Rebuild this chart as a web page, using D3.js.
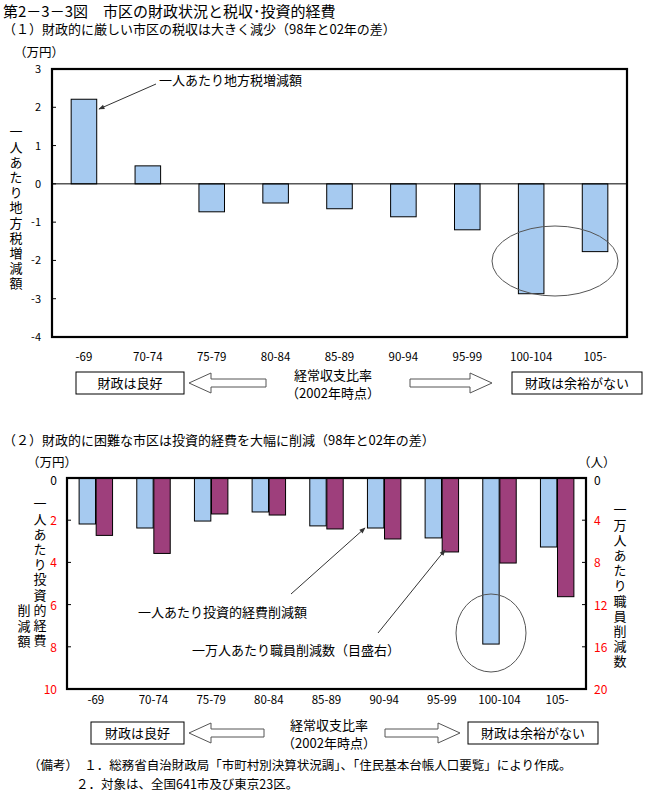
<!DOCTYPE html>
<html><head><meta charset="utf-8">
<script src="https://cdn.jsdelivr.net/npm/d3@7"></script>
<style>
body{margin:0;background:#fff;}
svg text{font-family:"Noto Sans CJK JP","Noto Sans CJK SC",sans-serif;}
</style></head>
<body><svg id="c" width="649" height="793"></svg>
<script>
const categories = ["-69","70-74","75-79","80-84","85-89","90-94","95-99","100-104","105-"];
const taxChange = [2.21, 0.47, -0.73, -0.50, -0.65, -0.86, -1.20, -2.87, -1.77];
const investCut = [2.18, 2.37, 2.04, 1.61, 2.27, 2.37, 2.84, 7.87, 3.27];
const staffCut = [5.44, 7.15, 3.41, 3.51, 4.83, 5.78, 7.01, 8.06, 11.25];
const ticks1 = [3,2,1,0,-1,-2,-3,-4];
const ticksL = [0,2,4,6,8,10];
const ticksR = [0,4,8,12,16,20];

const BLUE="#A6CAF0", PURPLE="#9E3F7C";
const svg=d3.select("#c");

const defs=svg.append("defs");
defs.append("marker").attr("id","ah").attr("viewBox","0 0 10 10").attr("refX",9).attr("refY",5)
 .attr("markerWidth",8).attr("markerHeight",6).attr("orient","auto")
 .append("path").attr("d","M0,1 L10,5 L0,9 Z").attr("fill","#333");

function txt(x,y,s,size,opts={}){
  const t=svg.append("text").attr("x",x).attr("y",y).attr("font-size",size).text(s)
   .attr("fill",opts.fill||"#000");
  if(opts.anchor) t.attr("text-anchor",opts.anchor);
  return t;
}
function vtext(x,yTop,s,size,step){
  svg.append("text").attr("x",x).attr("y",yTop).attr("font-size",size)
    .style("writing-mode","vertical-rl").style("text-orientation","upright")
    .attr("letter-spacing",step-size).text(s);
}
function blockArrow(x1,x2,yc,dir){
  const sh=4, hh=10, hl=22;
  let pts;
  if(dir<0){
    pts=[[x1,yc],[x1+hl,yc-hh],[x1+hl,yc-sh],[x2,yc-sh],[x2,yc+sh],[x1+hl,yc+sh],[x1+hl,yc+hh]];
  }else{
    pts=[[x2,yc],[x2-hl,yc-hh],[x2-hl,yc-sh],[x1,yc-sh],[x1,yc+sh],[x2-hl,yc+sh],[x2-hl,yc+hh]];
  }
  svg.append("polygon").attr("points",pts.map(p=>p.join(",")).join(" "))
   .attr("fill","#fff").attr("stroke","#555").attr("stroke-width",1);
}
function bottomLegend(y,b1,a1,tx,a2,b2){
  svg.append("rect").attr("x",b1[0]).attr("y",y-11).attr("width",b1[1]-b1[0]).attr("height",22)
    .attr("fill","#fff").attr("stroke","#000");
  txt((b1[0]+b1[1])/2,y+5,"財政は良好",13,{anchor:"middle"});
  blockArrow(a1[0],a1[1],y,-1);
  txt(tx,y-3,"経常収支比率",13,{anchor:"middle"});
  txt(tx,y+15,"（2002年時点）",13,{anchor:"middle"});
  blockArrow(a2[0],a2[1],y,1);
  svg.append("rect").attr("x",b2[0]).attr("y",y-11).attr("width",b2[1]-b2[0]).attr("height",22)
    .attr("fill","#fff").attr("stroke","#000");
  txt((b2[0]+b2[1])/2,y+5,"財政は余裕がない",13,{anchor:"middle"});
}

// Titles
txt(3,17,"第2－3－3図　市区の財政状況と税収･投資的経費",15);
txt(3,34,"（１）財政的に厳しい市区の税収は大きく減少（98年と02年の差）",13);

// ---------- Chart 1 ----------
const x1=d3.scaleBand().domain(categories).range([52,627]).paddingInner(0.6).paddingOuter(0.3);
const y1=d3.scaleLinear().domain([-4,3]).range([337,69]);
txt(14,57,"（万円）",12.5);
vtext(16,125,"一人あたり地方税増減額",13,15.2);
ticks1.forEach(t=>{
  txt(41,y1(t)+4,String(t),11,{anchor:"end"});
  svg.append("line").attr("x1",52).attr("x2",56).attr("y1",y1(t)).attr("y2",y1(t)).attr("stroke","#000");
});
svg.append("g").selectAll("rect").data(categories).join("rect")
 .attr("x",c=>x1(c)).attr("width",x1.bandwidth())
 .attr("y",(c,i)=>y1(Math.max(0,taxChange[i])))
 .attr("height",(c,i)=>Math.abs(y1(taxChange[i])-y1(0)))
 .attr("fill",BLUE).attr("stroke","#000").attr("stroke-width",1);
svg.append("line").attr("x1",52).attr("x2",627).attr("y1",y1(0)).attr("y2",y1(0)).attr("stroke","#000");
svg.append("rect").attr("x",52).attr("y",69).attr("width",575).attr("height",268)
 .attr("fill","none").attr("stroke","#000").attr("stroke-width",2.2);
categories.forEach(c=>txt(x1(c)+x1.bandwidth()/2,361,c,11.5,{anchor:"middle"}));
svg.append("ellipse").attr("cx",555).attr("cy",261).attr("rx",63).attr("ry",35)
 .attr("fill","none").attr("stroke","#555").attr("stroke-width",1);
txt(159,85,"一人あたり地方税増減額",13);
svg.append("line").attr("x1",156).attr("y1",84).attr("x2",99).attr("y2",109)
 .attr("stroke","#333").attr("stroke-width",1).attr("marker-end","url(#ah)");
bottomLegend(383,[76,184],[189,266],333,[410,492],[512,642]);

// ---------- Chart 2 ----------
txt(3,445,"（２）財政的に困難な市区は投資的経費を大幅に削減（98年と02年の差）",13);
const x2=d3.scaleBand().domain(categories).range([67,586]).paddingInner(0.42).paddingOuter(0.21);
const x2s=d3.scaleBand().domain(["a","b"]).range([0,x2.bandwidth()]).paddingInner(0.04);
const yL=d3.scaleLinear().domain([0,10]).range([478,689]);
const yR=d3.scaleLinear().domain([0,20]).range([478,689]);
txt(27,467,"（万円）",12.5);
txt(578,467,"（人）",12.5);
ticksL.forEach(t=>{
  txt(57,yL(t)+(t===0?7:5),String(t),12,{anchor:"end",fill:t===0?"#000":"#f00"});
  svg.append("line").attr("x1",67).attr("x2",71).attr("y1",yL(t)).attr("y2",yL(t)).attr("stroke","#000");
});
ticksR.forEach(t=>{
  txt(594,yR(t)+(t===0?7:5),String(t),12,{fill:t===0?"#000":"#f00"});
  svg.append("line").attr("x1",582).attr("x2",586).attr("y1",yR(t)).attr("y2",yR(t)).attr("stroke","#000");
});
vtext(40,497,"一人あたり投資的経費",13,15.2);
vtext(24,604,"削減額",13,15.2);
vtext(620,503,"一万人あたり職員削減数",13,15.2);
const g2=svg.append("g");
g2.selectAll("rect.a").data(categories).join("rect").attr("class","a")
 .attr("x",c=>x2(c)+x2s("a")).attr("width",x2s.bandwidth())
 .attr("y",yL(0)).attr("height",(c,i)=>yL(investCut[i])-yL(0))
 .attr("fill",BLUE).attr("stroke","#000");
g2.selectAll("rect.b").data(categories).join("rect").attr("class","b")
 .attr("x",c=>x2(c)+x2s("b")).attr("width",x2s.bandwidth())
 .attr("y",yR(0)).attr("height",(c,i)=>yR(staffCut[i])-yR(0))
 .attr("fill",PURPLE).attr("stroke","#000");
svg.append("rect").attr("x",67).attr("y",478).attr("width",519).attr("height",211)
 .attr("fill","none").attr("stroke","#000").attr("stroke-width",2.2);
categories.forEach(c=>txt(x2(c)+x2.bandwidth()/2,704,c,11.5,{anchor:"middle"}));
svg.append("ellipse").attr("cx",491).attr("cy",633).attr("rx",35).attr("ry",39)
 .attr("fill","none").attr("stroke","#555");
txt(138,617,"一人あたり投資的経費削減額",13);
svg.append("line").attr("x1",291).attr("y1",594).attr("x2",365).attr("y2",528)
 .attr("stroke","#333").attr("marker-end","url(#ah)");
txt(192,655,"一万人あたり職員削減数（目盛右）",13);
svg.append("line").attr("x1",378).attr("y1",633).attr("x2",445).attr("y2",550)
 .attr("stroke","#333").attr("marker-end","url(#ah)");
bottomLegend(733,[91,184],[189,264],329,[385,460],[468,598]);

// Footnotes
txt(28,770,"（備考）　１．総務省自治財政局「市町村別決算状況調」、「住民基本台帳人口要覧」により作成。",12.5);
txt(76,789,"２．対象は、全国641市及び東京23区。",12.5);
</script></body></html>
